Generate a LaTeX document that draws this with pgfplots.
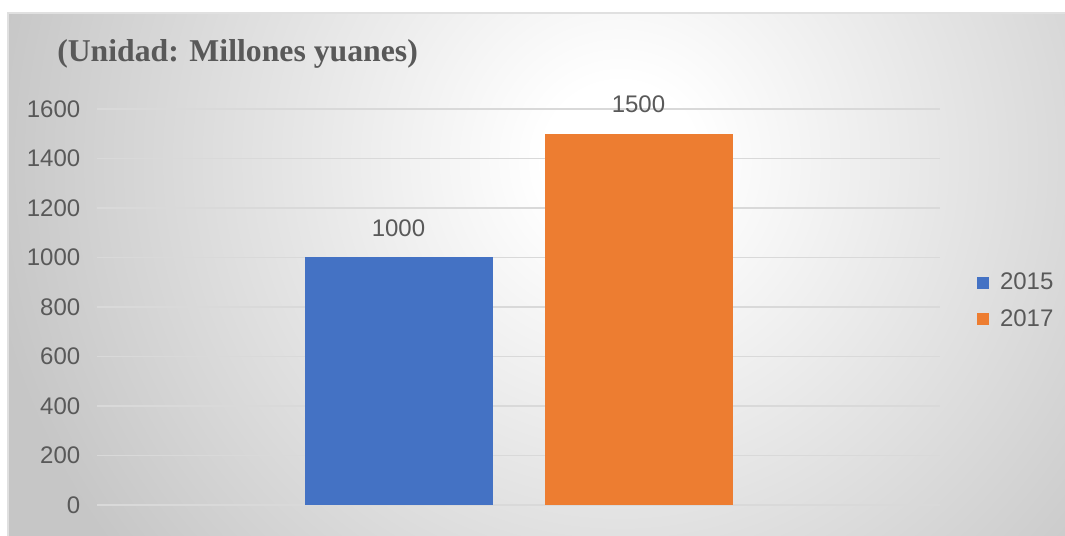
\documentclass[border=0pt]{standalone}
\usepackage{pgfplots}
\pgfplotsset{compat=1.18}
\usepackage{fontspec}
\setmainfont{Liberation Sans}
\newfontfamily\titlefont{Liberation Serif}
\definecolor{txtgray}{HTML}{595959}
\definecolor{gridgray}{HTML}{D9D9D9}
\definecolor{bar15}{HTML}{4472C4}
\definecolor{bar17}{HTML}{ED7D31}
\definecolor{edgegray}{HTML}{C6C6C6}
\pgfdeclareradialshading{chartbg}{\pgfpoint{0bp}{0bp}}{%
  color(0bp)=(white); color(3bp)=(white); color(25bp)=(edgegray); color(50bp)=(edgegray)}
\begin{document}
\begin{tikzpicture}
\begin{scope}[x=0.75pt,y=0.75pt]
% canvas: 1065 x 536 units, y measured upwards from the bottom edge
\path[use as bounding box] (0,0) rectangle (1065,536);
\fill[white] (0,0) rectangle (1065,536);
\begin{scope}
  \clip (8,0) rectangle (1065,523);
  \fill[edgegray] (8,0) rectangle (1065,523);
  \shade[shading=chartbg] (620,376) circle [radius=640];
\end{scope}
\draw[black!12, line width=1.2pt] (8,-5) -- (8,523) -- (1065,523);
% title
\node[anchor=base west, text=txtgray, font=\titlefont\bfseries\fontsize{23.8}{27}\selectfont, inner sep=0pt]
  at (57,474) {(Unidad: Millones yuanes)};
\coordinate (O) at (97,31);
\end{scope}
\begin{axis}[
  at={(O)}, anchor=origin,
  scale only axis, width=632.25pt, height=297pt,
  xmin=0, xmax=1, ymin=0, ymax=1600,
  ytick={0,200,...,1600}, xtick=\empty,
  axis line style={draw=none}, tick style={draw=none},
  ymajorgrids, grid style={gridgray, line width=1pt},
  yticklabel style={text=txtgray, font=\fontsize{18}{20}\selectfont, xshift=-9pt},
  /pgf/number format/assume math mode=true,
  /pgf/number format/1000 sep={},
  ybar=39pt, bar width=141pt,
  nodes near coords,
  every node near coord/.append style={text=txtgray, font=\fontsize{18}{20}\selectfont, yshift=12pt},
  legend style={at={(1.044,0.516)}, anchor=west, draw=none, fill=none, inner sep=0pt,
    font=\fontsize{18}{20}\selectfont, text=txtgray, row sep=9pt,
    /tikz/every odd column/.append style={column sep=6pt}},
  legend image code/.code={\fill[#1] (0pt,-4.5pt) rectangle (9pt,4.5pt);},
  clip=false,
]
\addplot[fill=bar15, draw=none] coordinates {(0.5,1000)};
\addplot[fill=bar17, draw=none] coordinates {(0.5,1500)};
\legend{2015,2017}
\end{axis}
\end{tikzpicture}
\end{document}
